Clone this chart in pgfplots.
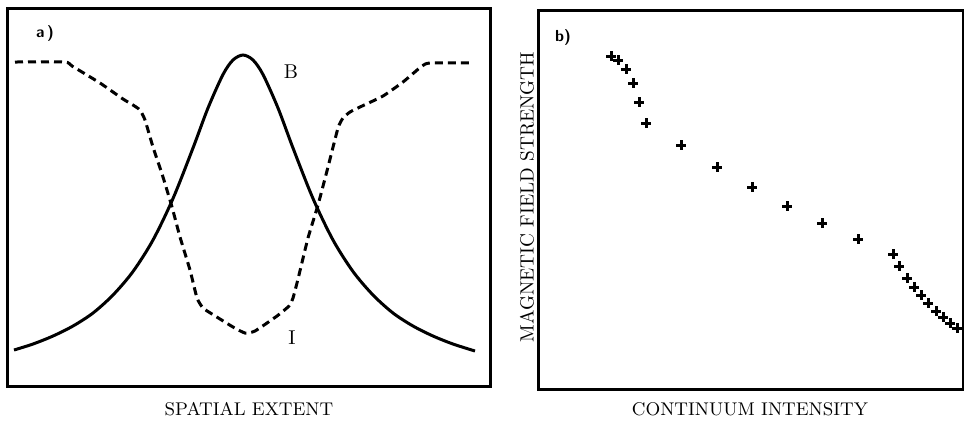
\documentclass[border=0pt]{standalone}
\usepackage{pgfplots}
\pgfplotsset{compat=1.18}

% one reference pixel = 0.5pt; data are given in pixel positions
\pgfplotsset{
  panel/.style={
    scale only axis, clip=false,
    y dir=reverse,
    xtick=\empty, ytick=\empty,
    axis line style={line width=1.5pt},
    anchor=north west,
  },
}

\begin{document}
\begin{tikzpicture}
\path[use as bounding box] (0,0) rectangle (482pt,-210pt);

% a) spatial profiles
\begin{axis}[panel,
  at={(4pt,-4pt)}, width=241pt, height=189pt,
  xmin=8, xmax=490, ymin=8, ymax=386]
  % B (solid)
  \addplot[black, line width=1.5pt, smooth] coordinates {
    (14,350) (33,344) (53,336) (73,326) (93,313) (113,295) (133,271.5)
    (153,240) (173,198.5) (193,148) (208,108) (223,74.5) (233,60) (243,55)
    (253,60) (263,74.5) (278,108) (293,148) (313,198.5) (333,240)
    (353,271.5) (373,295) (393,313) (413,326) (433,336) (453,344) (475,351)};
  % I (dashed)
  \addplot[black, line width=1.5pt, dash pattern=on 4pt off 2.5pt, smooth, tension=0.3] coordinates {
    (15,62) (65,62) (72,66) (100,83) (123,99) (133,105) (140,110) (145,120)
    (153,147) (163,177) (172,207) (180,237) (190,270) (197,298) (203,308)
    (212,314) (233,327) (245,333) (255,331) (277,316) (289,306) (293,298)
    (298,279) (308,238) (318,205) (328,167) (338,128) (343,118) (350,112)
    (360,107) (383,96) (403,82) (422,66) (430,63) (472,63)};
  \node[font=\fontsize{10}{11}\selectfont] at (axis cs:291,72) {B};
  \node[font=\fontsize{10}{11}\selectfont] at (axis cs:292,338) {I};
  \node[font=\sffamily\bfseries\fontsize{8}{10}\selectfont] at (axis cs:45,33) {a\,)};
  \node[anchor=base, font=\fontsize{9.2}{11}\selectfont] at (axis cs:249,415) {SPATIAL EXTENT};
\end{axis}

% b) field strength against continuum intensity
\begin{axis}[panel,
  at={(269pt,-5pt)}, width=212.5pt, height=189.5pt,
  xmin=538, xmax=963, ymin=10, ymax=389]
  \addplot[black, only marks, mark=+, mark size=2.3pt, mark options={line width=1.5pt}] coordinates {
    (611,56) (618,60) (626,69) (633,83) (639,102) (646,123)
    (681,145) (717,167) (752,187) (787,206) (822,223) (858,239)
    (893,254) (899,266) (907,278) (914,287) (921,295) (928,303)
    (936,311) (943,317) (950,323) (957,328)};
  \node[font=\sffamily\bfseries\fontsize{8}{10}\selectfont] at (axis cs:563,37) {b)};
  \node[rotate=90, font=\fontsize{9.6}{11}\selectfont] at (axis cs:527,197) {MAGNETIC FIELD STRENGTH};
  \node[anchor=base, font=\fontsize{9.2}{11}\selectfont] at (axis cs:750,415) {CONTINUUM INTENSITY};
\end{axis}
\end{tikzpicture}
\end{document}
